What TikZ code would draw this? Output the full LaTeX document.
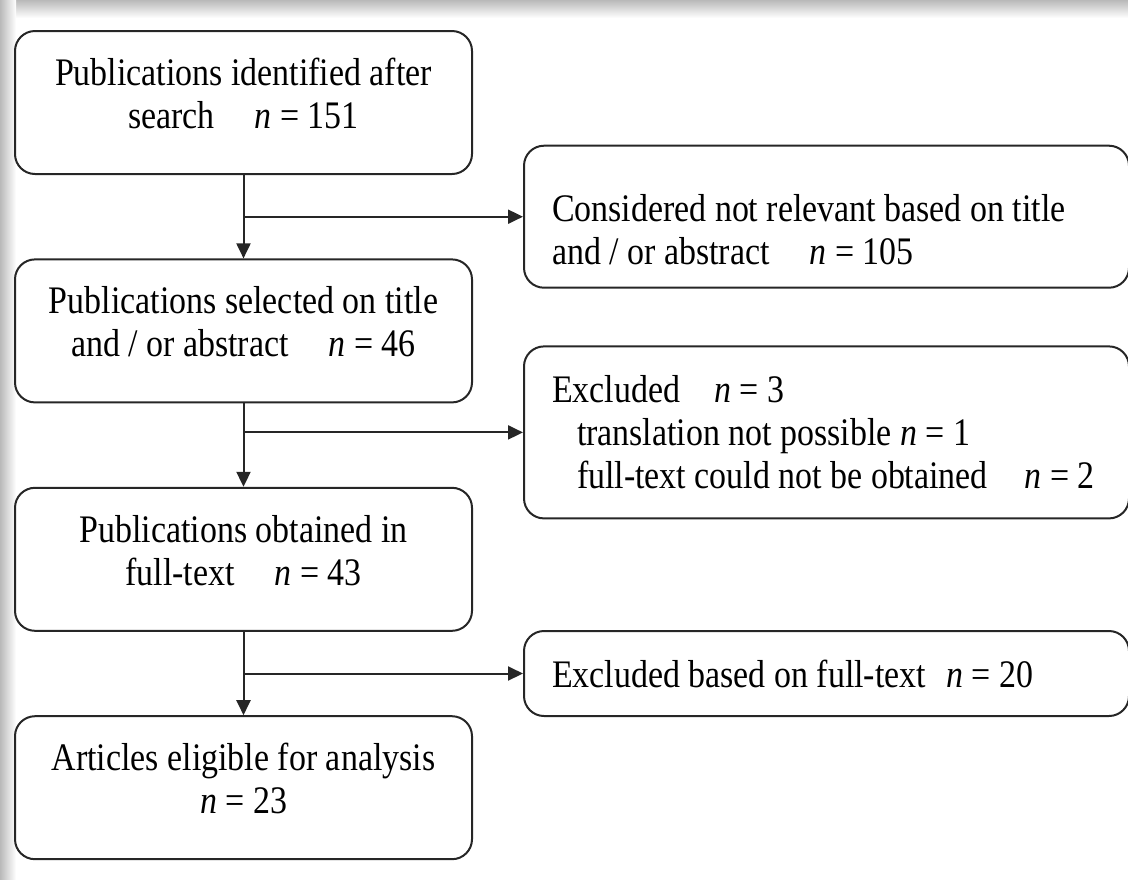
\documentclass[tikz,border=0pt]{standalone}
\usepackage{fontspec}
\setmainfont[FakeStretch=0.87]{Liberation Serif}
\usetikzlibrary{arrows.meta,positioning,calc}

\begin{document}
\begin{tikzpicture}[
  x=1pt, y=1pt,
  node distance=41.7pt,
  stage/.style={rectangle, draw=black!85, line width=1pt, rounded corners=10pt,
                minimum width=228.5pt, minimum height=71.5pt, align=center,
                text depth=9pt, font=\fontsize{19.5}{21.5}\selectfont},
  side/.style={rectangle, draw=black!85, line width=1pt, rounded corners=10pt,
               text width=274.5pt, inner xsep=14pt, align=flush left,
               font=\fontsize{19.5}{21.5}\selectfont},
  arr/.style={-{Triangle[length=7.5pt, width=7pt]}, line width=1pt, black!85},
]

% Frame
\useasboundingbox (0,0) rectangle (564,-439.5);
\shade[top color=gray!55, bottom color=white] (0,0) rectangle (564,-9);
\shade[left color=gray!55, right color=white] (0,0) rectangle (8,-439.5);

% Main flow
\node[stage] (ident) at (121.75,-51.25) {Publications identified after\\search\hspace{20pt}\textit{n} = 151};
\node[stage, below=of ident] (select) {Publications selected on title\\and / or abstract\hspace{20pt}\textit{n} = 46};
\node[stage, below=of select] (obtain) {Publications obtained in\\full-text\hspace{20pt}\textit{n} = 43};
\node[stage, below=of obtain] (elig) {Articles eligible for analysis\\\textit{n} = 23};

% Branch points
\coordinate (b1) at ($(ident.south)!0.5!(select.north)$);
\coordinate (b2) at ([yshift=-14.5pt]select.south);
\coordinate (b3) at ($(obtain.south)!0.5!(elig.north)$);

% Exclusions
\node[side, minimum height=71pt, text depth=9pt, anchor=west] (notrel) at ([xshift=25pt]ident.east |- b1)
  {Considered not relevant based on title\\and / or abstract\hspace{20pt}\textit{n} = 105};
\node[side, minimum height=86pt, anchor=west] (excl) at ([xshift=25pt]select.east |- b2)
  {Excluded\hspace{17pt}\textit{n} = 3\\
   \hspace*{12.5pt}translation not possible \textit{n} = 1\\
   \hspace*{12.5pt}full-text could not be obtained\hspace{18.5pt}\textit{n} = 2};
\node[side, minimum height=42.5pt, anchor=west] (exclft) at ([xshift=25pt]obtain.east |- b3)
  {Excluded based on full-text\hspace{10pt}\textit{n} = 20};

% Arrows
\draw[arr] (ident) -- (select);
\draw[arr] (select) -- (obtain);
\draw[arr] (obtain) -- (elig);
\draw[arr] (b1) -- (notrel.west);
\draw[arr] (b2) -- (excl.west);
\draw[arr] (b3) -- (exclft.west);

\end{tikzpicture}
\end{document}
